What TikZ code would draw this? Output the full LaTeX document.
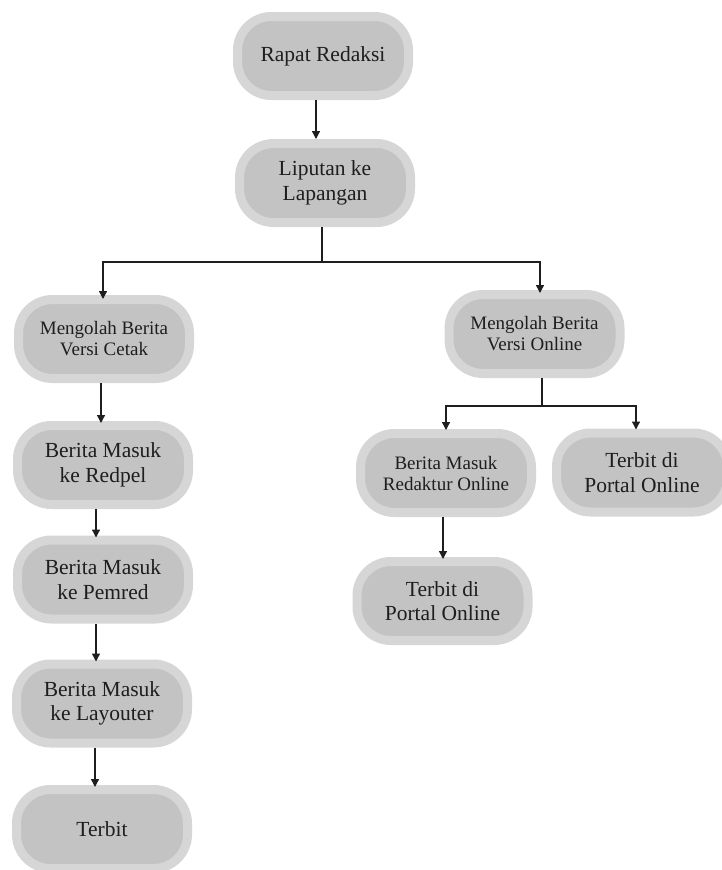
\documentclass[tikz,border=0pt]{standalone}
\usepackage{fontspec}
\setmainfont{Liberation Serif}
\usetikzlibrary{arrows.meta}
\definecolor{boxin}{HTML}{C3C3C3}
\definecolor{boxout}{HTML}{D6D6D6}
\definecolor{ink}{HTML}{1E1E1E}
\tikzset{
  flowbox/.style={rectangle, rounded corners=34pt, fill=boxin, draw=boxout,
    line width=9pt, minimum width=171pt, minimum height=79pt, outer sep=4.5pt,
    inner sep=0pt, align=center, text=ink,
    font=\fontsize{21.5pt}{24.5pt}\selectfont},
  smallbox/.style={flowbox, font=\fontsize{19pt}{21pt}\selectfont},
  arr/.style={draw=ink, line width=1.3pt, -{Triangle[length=8pt,width=8pt]}},
  ln/.style={draw=ink, line width=1.3pt}
}
\begin{document}
\begin{tikzpicture}[x=1pt,y=-1pt]
\clip (0,0) rectangle (722,870);
\fill[white] (0,0) rectangle (722,870);
\node[flowbox] (b1) at (323,56) {Rapat Redaksi};
\node[flowbox] (b2) at (325,183) {Liputan ke\\Lapangan};
\node[smallbox] (b3) at (104,339) {Mengolah Berita\\Versi Cetak};
\node[flowbox] (b4) at (103,465) {Berita Masuk\\ke Redpel};
\node[flowbox] (b5) at (103,579.5) {Berita Masuk\\ke Pemred};
\node[flowbox] (b6) at (102,703.5) {Berita Masuk\\ke Layouter};
\node[flowbox] (b7) at (102,829) {Terbit};
\node[smallbox] (b8) at (534.5,334) {Mengolah Berita\\Versi Online};
\node[smallbox] (b9) at (446,473) {Berita Masuk\\Redaktur Online};
\node[flowbox] (b10) at (442.5,601) {Terbit di\\Portal Online};
\node[flowbox] (b11) at (642,472.5) {Terbit di\\Portal Online};
\coordinate (s1) at (322,262);
\coordinate (s2) at (542,406);
\draw[arr] (b1.south -| 316,0) -- (b2.north -| 316,0);
\draw[ln] (b2.south -| s1) -- (s1);
\draw[arr] (s1) -| ([yshift=-4pt]b3.north -| 103,0);
\draw[arr] (s1) -| ([yshift=-3pt]b8.north -| 540,0);
\draw[arr] (b3.south -| 101,0) -- ([yshift=-2pt]b4.north -| 101,0);
\draw[arr] (b4.south -| 96,0) -- ([yshift=-2pt]b5.north -| 96,0);
\draw[arr] (b5.south -| 96,0) -- ([yshift=-2pt]b6.north -| 96,0);
\draw[arr] (b6.south -| 95,0) -- ([yshift=-2pt]b7.north -| 95,0);
\draw[ln] (b8.south -| s2) -- (s2);
\draw[ln] (446,406) -- (636,406);
\draw[arr] (s2) -| ([yshift=-1pt]b9.north -| 446,0);
\draw[arr] (s2) -| ([yshift=-1pt]b11.north -| 636,0);
\draw[arr] (b9.south -| 443,0) -- ([yshift=-2pt]b10.north -| 443,0);
\end{tikzpicture}
\end{document}
